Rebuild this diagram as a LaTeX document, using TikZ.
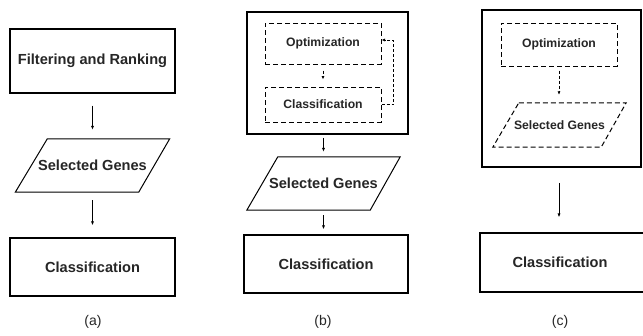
\documentclass[tikz,border=0pt]{standalone}
\usepackage{fontspec}
\setmainfont{Liberation Sans}
\usetikzlibrary{arrows.meta}
\begin{document}
\begin{tikzpicture}[x=1pt,y=-1pt,
  box/.style={draw, line width=1.3pt, inner sep=0pt, text=black!85, font=\bfseries\fontsize{14.6}{16}\selectfont},
  dbox/.style={draw, dash pattern=on 5pt off 3pt, line width=1pt, inner sep=0pt, text=black!85, font=\bfseries\fontsize{12.2}{14}\selectfont},
  outer/.style={draw, line width=1.5pt, inner sep=0pt},
  ptext/.style={inner sep=0pt, text=black!85, font=\bfseries\fontsize{14.6}{16}\selectfont},
  dptext/.style={inner sep=0pt, text=black!85, font=\bfseries\fontsize{12.2}{14}\selectfont},
  pline/.style={line width=1pt, line join=miter},
  arr/.style={line width=0.9pt, -{Latex[length=4pt,width=3.2pt]}},
  darr/.style={line width=0.9pt, dash pattern=on 3pt off 2pt, -{Latex[length=3.5pt,width=3pt]}},
  lab/.style={inner sep=0pt, text=black!85, font=\fontsize{14}{16}\selectfont}
]
\useasboundingbox (0,0) rectangle (643,335);
\fill[white] (0,0) rectangle (643,335);

% ---------- (a) ----------
\node[box, minimum width=165pt, minimum height=64pt] (fa) at (92.5,61) {Filtering and Ranking};
\node[ptext, minimum width=154pt, minimum height=53pt] (sga) at (92.5,165.5) {Selected Genes};
\draw[pline] ([xshift=32pt]sga.north west) -- (sga.north east) -- ([xshift=-31pt]sga.south east) -- (sga.south west) -- cycle;
\node[box, minimum width=165pt, minimum height=58pt] (ca) at (92.5,267) {Classification};
\draw[arr] ([yshift=-12pt]fa.south) -- ([yshift=9pt]sga.north);
\draw[arr] ([yshift=-8pt]sga.south) -- ([yshift=12pt]ca.north);
\node[lab] (la) at (93,322) {(a)};

% ---------- (b) ----------
\node[outer, minimum width=161pt, minimum height=122pt] (ob) at (327.5,73) {};
\node[dbox, minimum width=116pt, minimum height=41pt] (opb) at (323,43.5) {Optimization};
\node[dbox, minimum width=116pt, minimum height=35pt] (cdb) at (323,104.5) {Classification};
\draw[darr] ([yshift=-6pt]opb.south) -- ([yshift=7pt]cdb.north);
\draw[darr] (cdb.east) -- ++(12pt,0) |- ([yshift=3.5pt]opb.east);
\node[ptext, minimum width=153pt, minimum height=53pt] (sgb) at (323.5,183.5) {Selected Genes};
\draw[pline] ([xshift=31pt]sgb.north west) -- (sgb.north east) -- ([xshift=-30pt]sgb.south east) -- (sgb.south west) -- cycle;
\node[box, minimum width=164pt, minimum height=58pt] (cb) at (326,264) {Classification};
\draw[arr] ([yshift=-3pt]sgb.north |- ob.south) -- ([yshift=5pt]sgb.north);
\draw[arr] ([yshift=-5pt]sgb.south) -- ([yshift=5pt]sgb.south |- cb.north);
\node[lab] (lb) at (323,322) {(b)};

% ---------- (c) ----------
\node[outer, minimum width=159pt, minimum height=157pt] (oc) at (561.5,88.5) {};
\node[dbox, minimum width=116pt, minimum height=43pt] (opc) at (559,44.5) {Optimization};
\node[dptext, minimum width=133pt, minimum height=44pt] (sgc) at (559.5,125) {Selected Genes};
\draw[pline, dash pattern=on 5pt off 3pt] ([xshift=26pt]sgc.north west) -- (sgc.north east) -- ([xshift=-25pt]sgc.south east) -- (sgc.south west) -- cycle;
\node[box, minimum width=166pt, minimum height=59pt] (cc) at (563,262.5) {};
\node[ptext] (cct) at (560,262.5) {Classification};
\draw[darr] ([yshift=-4pt]opc.south) -- ([yshift=8pt]opc.south |- sgc.north);
\draw[arr] ([yshift=-15pt]opc.south |- oc.south) -- ([yshift=15pt]opc.south |- cc.north);
\node[lab] (lc) at (560,322) {(c)};
\end{tikzpicture}
\end{document}
